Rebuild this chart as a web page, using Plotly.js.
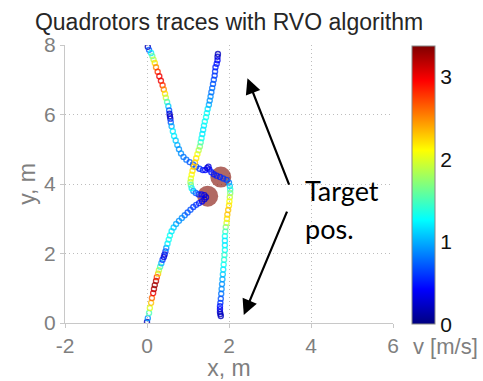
<!DOCTYPE html>
<html><head><meta charset="utf-8">
<script src="https://cdn.plot.ly/plotly-3.0.1.min.js"></script>
<style>html,body{margin:0;padding:0;background:#fff;}#chart{width:483px;height:381px;}</style>
</head><body><div id="chart"></div>
<script>
// Quadrotor 1: starts at (0,8), ends at target near (1.8,0.2)
var traj1_x = [0.02,0.05,0.10,0.13,0.16,0.19,0.22,0.26,0.30,0.34,0.38,0.41,0.44,0.46,0.49,0.52,0.54,0.55,0.56,0.57,0.58,0.60,0.63,0.66,0.70,0.74,0.78,0.83,0.89,0.96,1.04,1.12,1.20,1.28,1.36,1.42,1.47,1.50,1.52,1.57,1.63,1.70,1.78,1.86,1.94,2.00,2.02,2.03,2.03,2.02,2.01,2.00,1.98,1.96,1.95,1.94,1.92,1.91,1.90,1.90,1.90,1.90,1.89,1.88,1.87,1.86,1.85,1.84,1.83,1.82,1.81,1.80,1.79,1.78,1.78,1.78,1.79,1.80];
var traj1_y = [7.95,7.86,7.77,7.68,7.58,7.48,7.36,7.23,7.10,6.97,6.84,6.72,6.60,6.48,6.36,6.24,6.12,6.02,5.95,5.88,5.78,5.66,5.52,5.38,5.25,5.12,5.00,4.88,4.78,4.70,4.63,4.56,4.50,4.44,4.40,4.40,4.46,4.50,4.42,4.34,4.28,4.24,4.20,4.16,4.12,4.04,3.94,3.84,3.74,3.62,3.50,3.38,3.25,3.12,3.00,2.88,2.76,2.63,2.50,2.37,2.24,2.10,1.96,1.82,1.68,1.54,1.40,1.26,1.12,0.98,0.84,0.70,0.58,0.48,0.40,0.32,0.26,0.20];
var traj1_v = [0.2,0.7,1.2,1.6,1.9,2.2,2.5,2.8,3.0,3.0,2.8,2.5,2.2,1.9,1.5,1.1,0.7,0.3,0.2,0.3,0.7,1.0,1.2,1.2,1.1,1.0,0.9,0.9,0.8,0.8,0.7,0.7,0.7,0.6,0.5,0.4,0.3,0.3,0.4,0.5,0.5,0.5,0.5,0.6,0.6,0.8,1.1,1.4,1.7,1.9,2.1,2.2,2.3,2.3,2.2,2.0,1.7,1.5,1.3,1.2,1.2,1.3,1.4,1.4,1.3,1.2,1.1,1.0,0.9,0.9,0.8,0.7,0.6,0.5,0.4,0.3,0.2,0.2];

// Quadrotor 2: starts at (0,0), ends at target near (1.73,7.74)
var traj2_x = [0.00,0.02,0.05,0.07,0.10,0.12,0.15,0.17,0.19,0.22,0.24,0.27,0.29,0.32,0.35,0.38,0.41,0.43,0.45,0.47,0.50,0.53,0.56,0.60,0.65,0.71,0.78,0.85,0.92,0.99,1.06,1.13,1.20,1.27,1.34,1.40,1.44,1.40,1.33,1.26,1.19,1.13,1.09,1.07,1.06,1.07,1.09,1.11,1.14,1.17,1.20,1.23,1.26,1.29,1.31,1.33,1.35,1.37,1.39,1.41,1.44,1.46,1.48,1.51,1.53,1.55,1.57,1.59,1.61,1.63,1.65,1.66,1.67,1.70,1.72,1.72,1.73];
var traj2_y = [0.03,0.14,0.29,0.43,0.58,0.72,0.86,0.98,1.09,1.21,1.32,1.42,1.52,1.62,1.72,1.82,1.90,1.97,2.06,2.16,2.28,2.40,2.52,2.64,2.75,2.85,2.94,3.02,3.10,3.18,3.26,3.34,3.40,3.45,3.50,3.56,3.62,3.68,3.70,3.70,3.74,3.80,3.88,3.97,4.06,4.16,4.27,4.38,4.50,4.62,4.74,4.86,4.97,5.08,5.20,5.32,5.44,5.56,5.68,5.80,5.92,6.04,6.16,6.28,6.40,6.52,6.64,6.76,6.88,7.00,7.12,7.24,7.36,7.46,7.56,7.66,7.74];
var traj2_v = [0.2,0.9,1.5,2.0,2.3,2.6,3.0,3.2,3.3,3.2,2.8,2.3,1.9,1.5,1.0,0.6,0.3,0.3,0.6,0.9,1.2,1.3,1.3,1.2,1.1,1.0,0.9,0.9,0.8,0.7,0.7,0.6,0.6,0.5,0.4,0.3,0.3,0.3,0.4,0.5,0.7,0.9,1.2,1.5,1.8,2.0,2.1,2.2,2.3,2.3,2.2,2.1,1.9,1.7,1.5,1.3,1.2,1.2,1.2,1.3,1.3,1.3,1.2,1.0,0.9,0.9,0.8,0.8,0.7,0.7,0.6,0.6,0.5,0.5,0.4,0.3,0.2];

// Quadrotor bodies at the moment of closest approach
var quad_x = [1.80, 1.48];
var quad_y = [4.20, 3.65];

var xTicks = [-2, 0, 2, 4, 6];
var yTicks = [0, 2, 4, 6, 8];
var cbTicks = [0, 1, 2, 3];
var vMax = 3.37;

var jet = [[0,'rgb(0,0,128)'],[0.125,'rgb(0,0,255)'],[0.375,'rgb(0,255,255)'],[0.625,'rgb(255,255,0)'],[0.875,'rgb(255,0,0)'],[1,'rgb(128,0,0)']];
var gray = '#7f7f7f';
var FONT = 'Liberation Sans, Arial, sans-serif';

var traces = [
  {x: quad_x, y: quad_y, type:'scatter', mode:'markers', hoverinfo:'skip', showlegend:false,
   marker:{size:21, color:'rgba(135,25,15,0.65)', line:{width:0}}},
  {x: traj1_x, y: traj1_y, type:'scatter', mode:'markers', showlegend:false,
   marker:{symbol:'circle-open', size:5, opacity:0.8, line:{width:1.4}, color: traj1_v, colorscale: jet, cmin:0, cmax:vMax,
     showscale:true,
     colorbar:{x:1.058, xanchor:'left', xref:'paper', xpad:0, ypad:0, y:0.495, yanchor:'middle', len:1.0, lenmode:'fraction',
       thickness:23, outlinewidth:1, outlinecolor:'#888', tickvals: cbTicks, ticktext: cbTicks.map(String), ticks:'',
       tickfont:{family:FONT, size:21, color:'#111'}}}},
  {x: traj2_x, y: traj2_y, type:'scatter', mode:'markers', showlegend:false,
   marker:{symbol:'circle-open', size:5, opacity:0.8, line:{width:1.4}, color: traj2_v, colorscale: jet, cmin:0, cmax:vMax, showscale:false}}
];

var layout = {
  width:483, height:381,
  margin:{l:65, r:90, t:45, b:58},
  paper_bgcolor:'#fff', plot_bgcolor:'#fff',
  title:{text:'Quadrotors traces with RVO algorithm', font:{family:FONT, size:23, color:'#262626'},
         xref:'paper', x:0.5, xanchor:'center', yref:'container', y:0.942, yanchor:'middle'},
  xaxis:{range:[-2,6], tickvals:xTicks, ticktext:xTicks.map(String), showgrid:true, gridcolor:'#bdbdbd', griddash:'1px,3px', gridwidth:1,
         zeroline:false, showline:true, linecolor:'#c8c8c8', linewidth:1, ticks:'outside', ticklen:4, tickcolor:'#c8c8c8',
         tickfont:{family:FONT, size:21, color:gray}, fixedrange:true,
         title:{text:'x, m', font:{family:FONT, size:23, color:gray}, standoff:4}},
  yaxis:{range:[0,8], tickvals:yTicks, ticktext:yTicks.map(String), showgrid:true, gridcolor:'#bdbdbd', griddash:'1px,3px', gridwidth:1,
         zeroline:false, showline:true, linecolor:'#c8c8c8', linewidth:1, ticks:'outside', ticklen:4, tickcolor:'#c8c8c8',
         tickfont:{family:FONT, size:21, color:gray}, fixedrange:true,
         title:{text:'y, m', font:{family:FONT, size:23, color:gray}, standoff:2}},
  annotations:[
    {xref:'x', yref:'y', x:2.45, y:7.04, axref:'x', ayref:'y', ax:3.48, ay:3.94, text:'', showarrow:true,
     arrowhead:2, arrowsize:1.4, arrowwidth:2.2, arrowcolor:'#000'},
    {xref:'x', yref:'y', x:2.36, y:0.23, axref:'x', ayref:'y', ax:3.43, ay:3.25, text:'', showarrow:true,
     arrowhead:2, arrowsize:1.4, arrowwidth:2.2, arrowcolor:'#000'},
    {xref:'x', yref:'y', x:3.8, y:3.8, xanchor:'left', yanchor:'middle', text:'Target', showarrow:false,
     font:{family:'Lato, Carlito, sans-serif', size:27, color:'#000'}},
    {xref:'x', yref:'y', x:3.8, y:2.72, xanchor:'left', yanchor:'middle', text:'pos.', showarrow:false,
     font:{family:'Lato, Carlito, sans-serif', size:27, color:'#000'}},
    {xref:'paper', yref:'paper', x:1.16, y:-0.086, xanchor:'center', yanchor:'middle', text:'v [m/s]', showarrow:false,
     font:{family:FONT, size:22, color:gray}}
  ]
};

Plotly.newPlot('chart', traces, layout, {displayModeBar:false, staticPlot:true});
</script></body></html>
